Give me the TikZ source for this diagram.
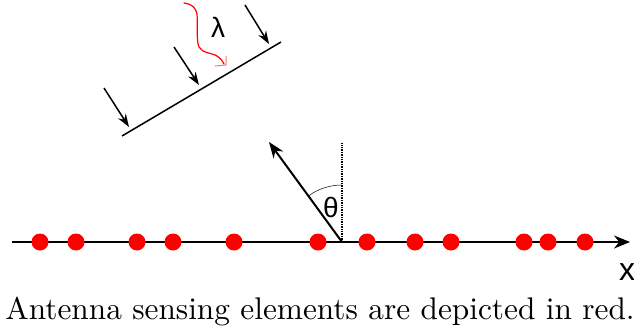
\documentclass[tikz,border=0pt]{standalone}
\usepackage{fontspec}
\newfontfamily\sansgr{Liberation Sans}
\newfontfamily\capfont{lmroman10-regular.otf}
\usetikzlibrary{arrows.meta}
\begin{document}
\begin{tikzpicture}[x=1pt,y=-1pt,
  elem/.style={circle,fill=red,inner sep=0pt,minimum size=17pt},
  ray/.style={line width=1.5pt,-{Stealth[length=13pt,width=9pt]}},
  axisline/.style={line width=2pt,-{Stealth[length=16pt,width=13pt]}},
  lbl/.style={font=\sansgr\fontsize{28}{30}\selectfont,inner sep=0pt}]
\useasboundingbox (0,0) rectangle (634,333);
% axis
\coordinate (axstart) at (12,242);
\coordinate (axend) at (630,242);
\draw[axisline] (axstart) -- (axend);
\foreach \i/\x in {1/40,2/76,3/137,4/173,5/234,6/318,7/367,8/415,9/451,10/524,11/548,12/585}
  \node[elem] (e\i) at (\x,242) {};
\node[lbl,font=\sansgr\fontsize{32}{34}\selectfont] (xl) at (627,272) {x};
% direction arrow and normal
\coordinate (o) at (342,242);
\coordinate (tip) at (269,142);
\coordinate (top) at (342,143);
\draw[line width=1.4pt,densely dotted] (o) -- (top);
\draw[line width=2pt,-{Stealth[length=16pt,width=12pt]}] (o) -- (tip);
\draw[line width=0.5pt] (o) ++(-90:57) arc[start angle=-90,end angle=-126.1,radius=57];
\node[lbl] (th) at (331,207) {θ};
% wavefront
\coordinate (w1) at (122,136);
\coordinate (w2) at (281,42);
\draw[line width=1.5pt] (w1) -- (w2);
\coordinate (a1s) at (104,88); \coordinate (a1e) at (129,127);
\coordinate (a2s) at (174,47); \coordinate (a2e) at (199,85);
\coordinate (a3s) at (245,5);  \coordinate (a3e) at (269,44);
\draw[ray] (a1s) -- (a1e);
\draw[ray] (a2s) -- (a2e);
\draw[ray] (a3s) -- (a3e);
% wavelength squiggle
\draw[red,line width=1.2pt,line cap=round,line join=round]
  (184,3) .. controls (192,4) and (196,8) .. (197,14)
  .. controls (198,25) and (196,40) .. (199,47)
  .. controls (202,53) and (212,53) .. (217,56)
  .. controls (221,59) and (223,61) .. (224,64);
\draw[red!55,line width=1pt,line cap=round] (215,66) -- (226,65) -- (226,56);
\node[lbl] (lam) at (218,27) {λ};
% caption
\node[anchor=base,inner sep=0pt,font=\capfont\fontsize{31.3}{33}\selectfont] (cap) at (320,319) {Antenna sensing elements are depicted in red.};
\end{tikzpicture}
\end{document}
